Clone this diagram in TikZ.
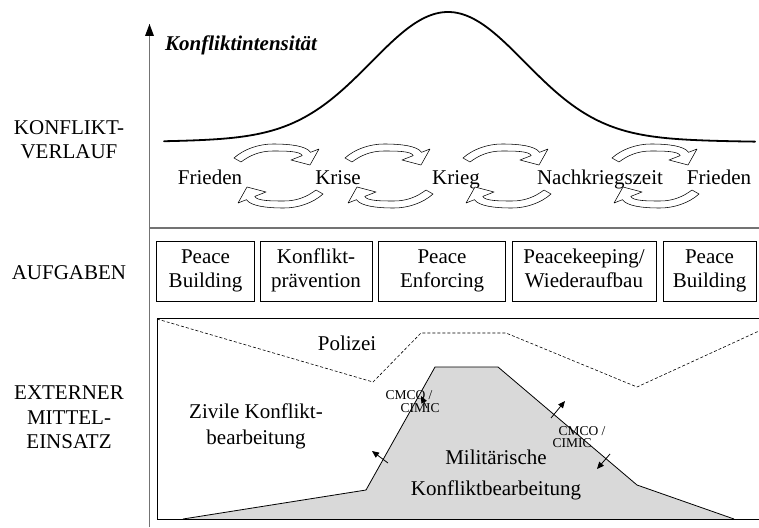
\documentclass[tikz,border=0pt]{standalone}
\usepackage{fontspec}
\setmainfont{Liberation Serif}
\usetikzlibrary{arrows.meta}
\tikzset{
  lbl/.style={font=\fontsize{21}{24}\selectfont, align=center, inner sep=0pt},
  small/.style={font=\fontsize{13.5}{14}\selectfont, inner sep=0pt},
  taskbox/.style={draw=black, line width=0.7pt, font=\fontsize{21}{24}\selectfont, align=center, inner sep=0pt, minimum height=60pt},
  axisline/.style={draw=black!55, line width=1.4pt},
  cyc/.style={draw=black, fill=white, line width=0.55pt, line join=round},
  tinyarrow/.style={draw=black, line width=0.8pt, -{Triangle[length=7pt,width=6pt]}},
  pics/cycarrow/.style={code={
    \path[cyc] (-43,4) .. controls (-33,-5) and (-18,-10) .. (-4,-10)
      .. controls (14,-10) and (29,-8) .. (33.6,-1.7)
      -- (42,-5) -- (33,11) -- (14,6) -- (25.2,1.6)
      .. controls (23.4,-3) and (8,-3) .. (-4,-3)
      .. controls (-18,-3) and (-28,2) .. (-36,8) -- cycle;
  }}
}
\begin{document}
\begin{tikzpicture}[x=1pt,y=-1pt]
\useasboundingbox (0,0) rectangle (759,527);

% axes and separator
\coordinate (axbot) at (149.5,527);
\coordinate (axtop) at (149.5,24);
\coordinate (sepL) at (149.5,228);
\coordinate (sepR) at (759,228);
\draw[axisline] (axbot) -- (axtop);
\fill[black] (axtop) -- (145,36) -- (154,36) -- cycle;
\draw[axisline] (sepL) -- (sepR);

% left labels
\node[lbl] (kv) at (69,142) {KONFLIKT-\strut\\VERLAUF\strut};
\node[lbl, anchor=base] (auf) at (69,279) {AUFGABEN};
\node[lbl, font=\fontsize{21}{24.5}\selectfont] (ext) at (69,419.5) {EXTERNER\strut\\MITTEL-\strut\\EINSATZ\strut};

% curve
\node[lbl, anchor=base west, font=\fontsize{21}{24}\selectfont\bfseries\itshape] (ki) at (165,50) {Konfliktintensität};
\draw[line width=1.8pt, line cap=round] plot[domain=164:755, samples=160, smooth]
  (\x, {143-125*exp(-((\x-448)/108)^2)-6*exp(-((\x-448)/250)^2)});

% phases
\node[lbl, anchor=base] (f1) at (210,184) {Frieden};
\node[lbl, anchor=base] (kr) at (338,184) {Krise};
\node[lbl, anchor=base] (kg) at (456,184) {Krieg};
\node[lbl, anchor=base] (nk) at (600,184) {Nachkriegszeit};
\node[lbl, anchor=base] (f2) at (719,184) {Frieden};

% cycle arrows
\pic at (277,154) {cycarrow};
\pic at (388,154) {cycarrow};
\pic at (506,154) {cycarrow};
\pic at (655,154) {cycarrow};
\pic[rotate=180] at (280,198) {cycarrow};
\pic[rotate=180] at (390,198) {cycarrow};
\pic[rotate=180] at (508,198) {cycarrow};
\pic[rotate=180] at (656,198) {cycarrow};

% task boxes
\node[taskbox, minimum width=98pt] (b1) at (205.5,271) {Peace\strut\\Building\strut};
\node[taskbox, minimum width=112pt] (b2) at (316,271) {Konflikt-\strut\\prävention\strut};
\node[taskbox, minimum width=127pt] (b3) at (442,271) {Peace\strut\\Enforcing\strut};
\node[taskbox, minimum width=144pt] (b4) at (584,271) {Peacekeeping/\strut\\Wiederaufbau\strut};
\node[taskbox, minimum width=93pt] (b5) at (709.5,271) {Peace\strut\\Building\strut};

% lower panel
\coordinate (rTL) at (157,318);
\coordinate (rBL) at (157,519);
\coordinate (rTR) at (760,318);
\coordinate (rBR) at (760,519);
\coordinate (m1) at (183,519);
\coordinate (m2) at (366,490);
\coordinate (m3) at (435,367);
\coordinate (m4) at (498,367);
\coordinate (m5) at (637,485);
\coordinate (m6) at (734,519);
\fill[black!15] (m1) -- (m2) -- (m3) -- (m4) -- (m5) -- (m6) -- cycle;
\draw[black, line width=0.8pt] (m1) -- (m2) -- (m3) -- (m4) -- (m5) -- (m6);
\draw[black, line width=0.9pt] (rTR) -- (rTL) -- (rBL) -- (rBR);

% police dashed line
\coordinate (p1) at (157,319);
\coordinate (p2) at (373,382);
\coordinate (p3) at (421,333);
\coordinate (p4) at (506,333);
\coordinate (p5) at (637,387);
\coordinate (p6) at (759,331);
\draw[black, line width=0.6pt, dash pattern=on 3pt off 2pt] (p1) -- (p2) -- (p3) -- (p4) -- (p5) -- (p6);

\node[lbl, anchor=base] (pol) at (347,350) {Polizei};
\node[lbl, font=\fontsize{21}{26}\selectfont] (ziv) at (256,426) {Zivile Konflikt-\strut\\bearbeitung\strut};
\node[lbl, font=\fontsize{21}{31}\selectfont] (mil) at (496,474) {Militärische\strut\\Konfliktbearbeitung\strut};

% CMCO labels and arrows
\node[small] (c1a) at (409,395) {CMCO /};
\node[small] (c1b) at (420,408) {CIMIC};
\node[small] (c2a) at (582,431) {CMCO /};
\node[small] (c2b) at (572,443) {CIMIC};

\coordinate (a1s) at (427,408);
\coordinate (a1e) at (421,396);
\coordinate (a2s) at (388,463);
\coordinate (a2e) at (372,451);
\coordinate (a3s) at (551,418);
\coordinate (a3e) at (565,401);
\coordinate (a4s) at (610,454);
\coordinate (a4e) at (597,469);
\draw[tinyarrow] (a1s) -- (a1e);
\draw[tinyarrow] (a2s) -- (a2e);
\draw[tinyarrow] (a3s) -- (a3e);
\draw[tinyarrow] (a4s) -- (a4e);
\end{tikzpicture}
\end{document}
